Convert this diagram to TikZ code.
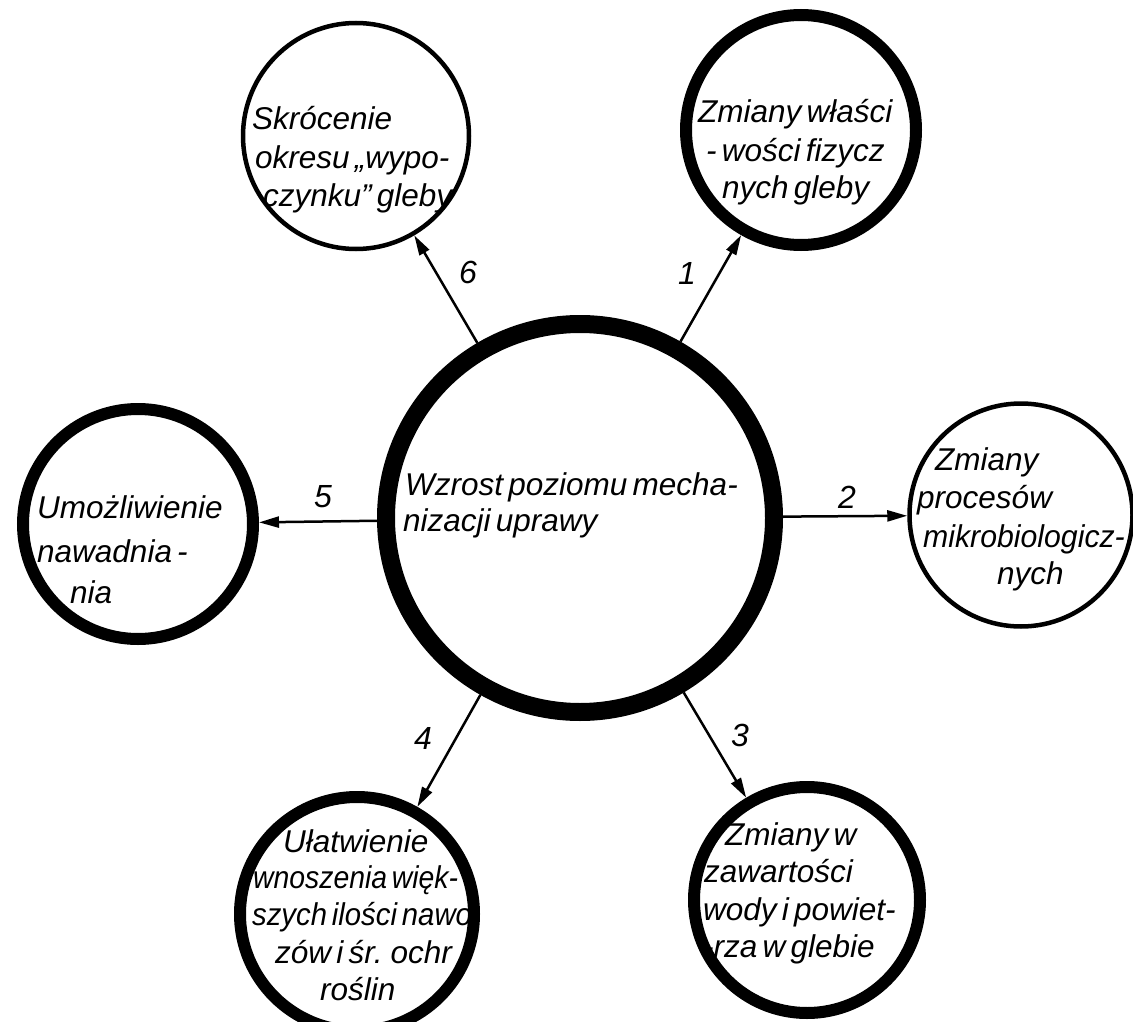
\documentclass[tikz,border=0pt]{standalone}
\usepackage{fontspec}
\setmainfont{Liberation Sans}[WordSpace=0.6]
\usetikzlibrary{arrows.meta}
\begin{document}
\begin{tikzpicture}[x=1pt,y=-1pt,
  ring/.style={circle, draw, inner sep=0pt},
  thinring/.style={ring, line width=4.5pt},
  thickring/.style={ring, line width=12pt},
  txt/.style={anchor=base west, inner sep=0pt, font=\fontsize{31.5}{38}\selectfont\itshape},
  num/.style={inner sep=0pt, font=\fontsize{32}{38}\selectfont\itshape},
  arr/.style={line width=2.5pt, -{Triangle[length=20pt,width=11pt]}}]
\useasboundingbox (0,0) rectangle (1133,1022);
\fill[white] (0,0) rectangle (1133,1022);

% circles
\node[ring, line width=18pt, minimum size=388pt] (C) at (580,518) {};
\node[thinring, minimum size=226pt] (n6) at (356,136) {};
\node[thickring, minimum size=230pt] (n1) at (801,130) {};
\node[thinring, minimum size=223pt] (n2) at (1021,515) {};
\node[thickring, minimum size=226pt] (n3) at (807,900) {};
\node[thickring, minimum size=234pt] (n4) at (357,914) {};
\node[thickring, minimum size=230pt] (n5) at (138,524) {};

% connectors
\draw[arr] (C) -- (n1);
\draw[arr] (C) -- (n2);
\draw[arr] (C) -- (n3);
\draw[arr] (C) -- (n4);
\draw[arr] (C) -- (n5);
\draw[arr] (C) -- (n6);

% numbers
\node[num] (l1) at (687,273) {1};
\node[num] (l2) at (847,497) {2};
\node[num] (l3) at (740,735) {3};
\node[num] (l4) at (423,738) {4};
\node[num] (l5) at (323,497) {5};
\node[num] (l6) at (468,272) {6};

% centre text
\node[txt] (ca) at (405,495) {Wzrost poziomu mecha-};
\node[txt] (cb) at (403,531) {nizacji uprawy};

% 6
\node[txt] (t6a) at (252,130) {Skrócenie};
\node[txt] (t6b) at (255,168) {okresu „wypo-};
\node[txt] (t6c) at (263,206) {czynku” gleby};

% 1
\node[txt] (t1a) at (698,123) {Zmiany właści};
\node[txt] (t1b) at (706,162) {- wości fizycz};
\node[txt] (t1c) at (722,199) {nych gleby};

% 2
\node[txt] (t2a) at (935,470) {Zmiany};
\node[txt] (t2b) at (917,508) {procesów};
\node[txt] (t2c) at (923,547) {\scalebox{0.96}[1]{mikrobiologicz-}};
\node[txt] (t2d) at (997,584) {nych};

% 3
\node[txt] (t3a) at (725,845) {Zmiany w};
\node[txt] (t3b) at (704,882) {zawartości};
\node[txt] (t3c) at (703,920) {wody i powiet-};
\node[txt] (t3d) at (703,957) {-rza w glebie};

% 4
\node[txt] (t4a) at (283,852) {Ułatwienie};
\node[txt] (t4b) at (253,888) {\scalebox{0.9}[1]{wnoszenia więk-}};
\node[txt] (t4c) at (252,925) {\scalebox{0.93}[1]{szych ilości nawo}};
\node[txt] (t4d) at (275,963) {zów i śr. ochr};
\node[txt] (t4e) at (320,1000) {roślin};

% 5
\node[txt] (t5a) at (37,518) {Umożliwienie};
\node[txt] (t5b) at (37,562) {nawadnia -};
\node[txt] (t5c) at (70,603) {nia};
\end{tikzpicture}
\end{document}
